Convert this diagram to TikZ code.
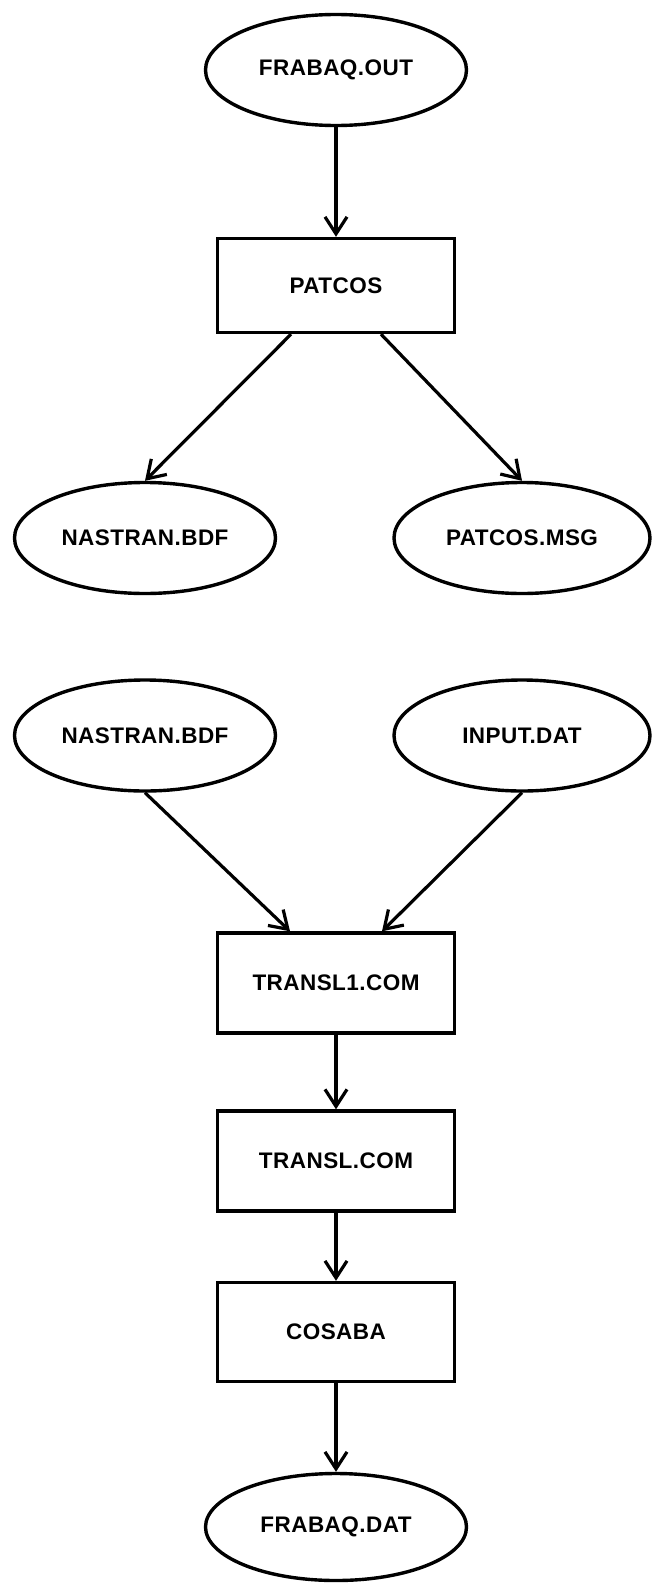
\documentclass[tikz,border=0pt]{standalone}
\usepackage{fontspec}
\setmainfont{Liberation Sans}[LetterSpace=2]
\usetikzlibrary{arrows.meta,shapes.geometric,calc}
\begin{document}
\begin{tikzpicture}[x=1pt,y=-1pt,
  lbl/.style={font=\bfseries\fontsize{22.5}{26}\selectfont},
  filenode/.style={lbl,draw,line width=3.4pt,ellipse,inner sep=0pt,minimum width=261pt,minimum height=111pt},
  procnode/.style={lbl,draw,line width=3.4pt,rectangle,inner sep=0pt,minimum width=237pt,minimum height=100pt},
  conn/.style={line width=3.2pt,-{Straight Barb[length=17pt,width=22pt]}}]
\useasboundingbox (0,0) rectangle (652,1584);
\node[filenode] (fout) at (336,70) {FRABAQ.OUT};
\node[procnode,minimum height=94pt] (patcos) at (336,285.5) {PATCOS};
\node[filenode] (nasa) at (145,538) {NASTRAN.BDF};
\node[filenode,minimum width=256pt] (msg) at (522,538) {PATCOS.MSG};
\node[filenode] (nasb) at (145,735.5) {NASTRAN.BDF};
\node[filenode,minimum width=256pt] (inp) at (522,735.5) {INPUT.DAT};
\node[procnode] (tone) at (336,983) {TRANSL1.COM};
\node[procnode] (tcom) at (336,1161) {TRANSL.COM};
\node[procnode,minimum height=99pt] (cos) at (336,1332) {COSABA};
\node[filenode,minimum height=107pt] (fdat) at (336,1527) {FRABAQ.DAT};
\coordinate (pl) at ($(patcos.south)+(-45,0)$);
\coordinate (pr) at ($(patcos.south)+(45,0)$);
\coordinate (tl) at ($(tone.north)+(-46,0)$);
\coordinate (tr) at ($(tone.north)+(46,0)$);
\draw[conn] (fout) -- (patcos);
\draw[conn] (pl) -- (nasa.north);
\draw[conn] (pr) -- (msg.north);
\draw[conn] (nasb.south) -- (tl);
\draw[conn] (inp.south) -- (tr);
\draw[conn] (tone) -- (tcom);
\draw[conn] (tcom) -- (cos);
\draw[conn] (cos) -- (fdat);
\end{tikzpicture}
\end{document}
